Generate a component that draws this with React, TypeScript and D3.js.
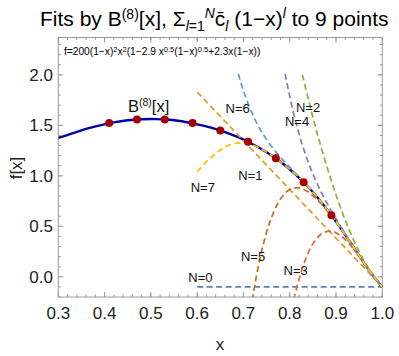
import * as d3 from "d3";

// sample points (x, f(x)) that the fits go through
const ptsX = [0.41, 0.47, 0.53, 0.59, 0.65, 0.71, 0.77, 0.83, 0.89];
const ptsY = [1.523, 1.558, 1.558, 1.523, 1.45, 1.337, 1.173, 0.937, 0.609];

// B(8)[x] curve
const bX = [0.3, 0.33, 0.36, 0.39, 0.42, 0.45, 0.48, 0.51, 0.54, 0.57, 0.6, 0.63, 0.66, 0.69, 0.72, 0.75, 0.78, 0.81, 0.84, 0.87, 0.9, 0.93, 0.96, 0.98, 1.0];
const bY = [1.375, 1.42, 1.465, 1.5, 1.53, 1.55, 1.56, 1.562, 1.555, 1.538, 1.51, 1.478, 1.434, 1.38, 1.313, 1.234, 1.139, 1.025, 0.889, 0.729, 0.547, 0.347, 0.141, 0.011, -0.1];

// partial sums N = 0..7, [x, y]
const n0 = [[0.6, -0.1], [1.0, -0.1]];
const n1 = [[0.6, 1.83], [1.0, -0.1]];
const n2 = [[0.8274, 2.0], [0.84, 1.763], [0.86, 1.41], [0.89, 0.95], [0.92, 0.56], [0.95, 0.25], [0.98, 0.014], [1.0, -0.1]];
const n3 = [[0.8, -0.41], [0.81, -0.2], [0.83, 0.122], [0.85, 0.326], [0.87, 0.429], [0.89, 0.451], [0.91, 0.408], [0.93, 0.319], [0.95, 0.201], [0.97, 0.073], [1.0, -0.1]];
const n4 = [[0.79, 2.01], [0.81, 1.587], [0.83, 1.267], [0.85, 1.02], [0.87, 0.821], [0.89, 0.652], [0.91, 0.498], [0.93, 0.352], [0.95, 0.21], [0.97, 0.074], [1.0, -0.1]];
const n5 = [[0.71, -0.51], [0.72, -0.2], [0.74, 0.27], [0.76, 0.58], [0.78, 0.77], [0.8, 0.865], [0.82, 0.88], [0.84, 0.84], [0.86, 0.76], [0.88, 0.66], [0.9, 0.544], [0.93, 0.347], [0.96, 0.141], [0.98, 0.011], [1.0, -0.1]];
const n6 = [[0.689, 2.01], [0.7, 1.843], [0.72, 1.606], [0.74, 1.43], [0.77, 1.238], [0.8, 1.086], [0.83, 0.941], [0.86, 0.786], [0.89, 0.611], [0.92, 0.416], [0.95, 0.209], [0.98, 0.011], [1.0, -0.1]];
const n7 = [[0.6, 1.04], [0.62, 1.14], [0.64, 1.22], [0.66, 1.285], [0.68, 1.32], [0.7, 1.325], [0.72, 1.305], [0.75, 1.234], [0.78, 1.139], [0.81, 1.025], [0.84, 0.889], [0.87, 0.729], [0.9, 0.547], [0.93, 0.347], [0.96, 0.141], [0.98, 0.011], [1.0, -0.1]];

const fits = [n0, n1, n2, n3, n4, n5, n6, n7];
const fitColors = ["#5e81b5", "#e19c24", "#8fb032", "#eb6235", "#8778b3", "#c56e1a", "#5d9ec7", "#ffbf00"];
const fitLabels = ["N=0", "N=1", "N=2", "N=3", "N=4", "N=5", "N=6", "N=7"];
// where each label sits (data coords of left/baseline)
const labelX = [0.581, 0.6888, 0.8134, 0.7868, 0.7896, 0.6946, 0.6615, 0.586];
const labelY = [-0.05, 0.954, 1.635, 0.013, 1.494, 0.154, 1.619, 0.835];

const xTicks = [0.3, 0.4, 0.5, 0.6, 0.7, 0.8, 0.9, 1.0];
const xTickLabels = ["0.3", "0.4", "0.5", "0.6", "0.7", "0.8", "0.9", "1.0"];
const yTicks = [0, 0.5, 1.0, 1.5, 2.0];
const yTickLabels = ["0.0", "0.5", "1.0", "1.5", "2.0"];

const W = 399;
const H = 356;
const font = "'Liberation Sans', Arial, sans-serif";

export default function App() {
  const x = d3.scaleLinear().domain([0.3, 1.0]).range([58.3, 382.3]);
  const y = d3.scaleLinear().domain([-0.2, 2.37]).range([297, 37.5]);
  const [x0, x1] = x.range();
  const [yb, yt] = y.range();

  const line = d3
    .line<number[]>()
    .x((d) => x(d[0]))
    .y((d) => y(d[1]))
    .curve(d3.curveCatmullRom.alpha(0.5));

  const bPath = line(bX.map((v, i) => [v, bY[i]])) || "";

  const xMinor = d3.range(0.3, 1.0001, 0.02);
  const yMinor = d3.range(-0.2, 2.37, 0.1);
  const frameColor = "#9a9a9a";

  return (
    <svg width={W} height={H} style={{ position: "absolute", left: 0, top: 0, background: "#fff" }} fontFamily={font}>
      <defs>
        <clipPath id="plotclip">
          <rect x={x0} y={yt} width={x1 - x0} height={yb - yt} />
        </clipPath>
      </defs>

      {/* title */}
      <text x={40} y={26} fontSize={21} fill="#000" style={{ whiteSpace: "pre" }}>
        Fits by B<tspan dy={-7} fontSize={14}>(8)</tspan>
        <tspan dy={7}>[x], Σ</tspan>
        <tspan dy={5} fontSize={14} fontStyle="italic">l</tspan>
        <tspan fontSize={14}>=1</tspan>
        <tspan dy={-13} fontSize={14} fontStyle="italic">N</tspan>
        <tspan dy={8}>{"c\u0304"}</tspan>
        <tspan dy={5} fontSize={14} fontStyle="italic">l</tspan>
        <tspan dy={-5}>{" (1−x)"}</tspan>
        <tspan dy={-8} fontSize={14} fontStyle="italic">l</tspan>
        <tspan dy={8}>{" to 9 points"}</tspan>
      </text>

      {/* frame + ticks */}
      <rect x={x0} y={yt} width={x1 - x0} height={yb - yt} fill="none" stroke={frameColor} strokeWidth={1} />
      {xMinor.map((t, i) => (
        <g key={"xm" + i} stroke={frameColor}>
          <line x1={x(t)} x2={x(t)} y1={yb} y2={yb - 2.5} />
          <line x1={x(t)} x2={x(t)} y1={yt} y2={yt + 2.5} />
        </g>
      ))}
      {xTicks.map((t, i) => (
        <g key={"xM" + i} stroke={frameColor}>
          <line x1={x(t)} x2={x(t)} y1={yb} y2={yb - 5} />
          <line x1={x(t)} x2={x(t)} y1={yt} y2={yt + 5} />
        </g>
      ))}
      {yMinor.map((t, i) => (
        <g key={"ym" + i} stroke={frameColor}>
          <line x1={x0} x2={x0 + 2.5} y1={y(t)} y2={y(t)} />
          <line x1={x1} x2={x1 - 2.5} y1={y(t)} y2={y(t)} />
        </g>
      ))}
      {yTicks.map((t, i) => (
        <g key={"yM" + i} stroke={frameColor}>
          <line x1={x0} x2={x0 + 5} y1={y(t)} y2={y(t)} />
          <line x1={x1} x2={x1 - 5} y1={y(t)} y2={y(t)} />
        </g>
      ))}
      {xTicks.map((t, i) => (
        <text key={"xl" + i} x={x(t)} y={319} fontSize={17} textAnchor="middle" fill="#222">
          {xTickLabels[i]}
        </text>
      ))}
      {yTicks.map((t, i) => (
        <text key={"yl" + i} x={53} y={y(t) + 6} fontSize={17} textAnchor="end" fill="#222">
          {yTickLabels[i]}
        </text>
      ))}

      {/* axis labels */}
      <text x={220} y={350} fontSize={17} textAnchor="middle" fill="#222">x</text>
      <text transform="translate(21.5,168) rotate(-90)" fontSize={17} textAnchor="middle" fill="#222">f[x]</text>

      {/* formula */}
      <text x={64} y={55} fontSize={10.2} fill="#000">
        f=200(1−x)<tspan dy={-3.5} fontSize={7.5}>2</tspan>
        <tspan dy={3.5}>x</tspan>
        <tspan dy={-3.5} fontSize={7.5}>2</tspan>
        <tspan dy={3.5}>(1−2.9 x</tspan>
        <tspan dy={-3.5} fontSize={7.5}>0.5</tspan>
        <tspan dy={3.5}>(1−x)</tspan>
        <tspan dy={-3.5} fontSize={7.5}>0.5</tspan>
        <tspan dy={3.5}>+2.3x(1−x))</tspan>
      </text>

      <g clipPath="url(#plotclip)">
        <path d={bPath} fill="none" stroke="#0000a8" strokeWidth={2.4} />
        {fits.map((f, i) => (
          <path key={"f" + i} d={line(f) || ""} fill="none" stroke={fitColors[i]} strokeWidth={1.7} strokeDasharray="6,3.5" />
        ))}
        {ptsX.map((v, i) => (
          <circle key={"p" + i} cx={x(v)} cy={y(ptsY[i])} r={4} fill="#a80000" />
        ))}
      </g>

      {/* labels */}
      <text x={128} y={111.5} fontSize={16.5} fill="#111">
        B<tspan dy={-6} fontSize={10.5}>(8)</tspan>
        <tspan dy={6}>[x]</tspan>
      </text>
      {fitLabels.map((s, i) => (
        <text key={"lb" + i} x={x(labelX[i])} y={y(labelY[i])} fontSize={13} fill="#111">
          {s}
        </text>
      ))}
    </svg>
  );
}
